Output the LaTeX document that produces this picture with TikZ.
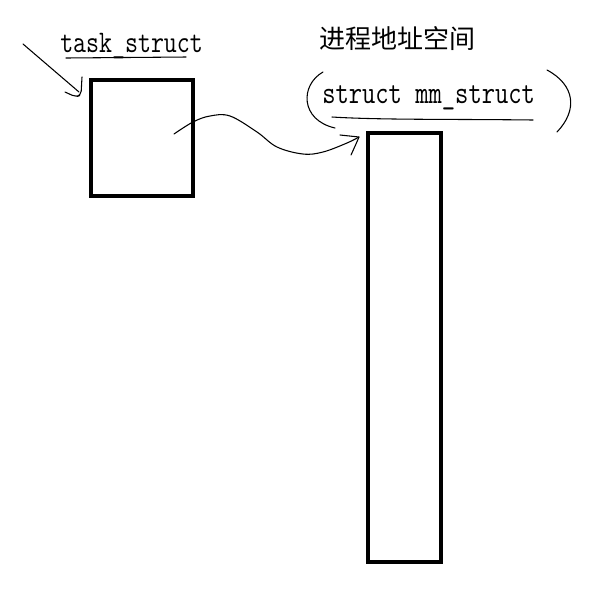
\documentclass[tikz,border=0pt]{standalone}
\usepackage{fontspec}
\usepackage{graphicx}
\newfontfamily\cjk{Noto Sans CJK SC}
\begin{document}
\begin{tikzpicture}[x=0.75pt,y=-0.75pt,
  box/.style={draw, line width=3pt, inner sep=0pt},
  hand/.style={line width=0.8pt, line cap=round, line join=round},
  code/.style={inner sep=0pt, anchor=base west, font=\ttfamily\fontsize{23.6pt}{28pt}\selectfont},
  codeb/.style={inner sep=0pt, anchor=base west, font=\ttfamily\fontsize{24.2pt}{28pt}\selectfont},
  title/.style={inner sep=0pt, anchor=base west, font=\cjk\fontsize{19.5pt}{24pt}\selectfont}]
\useasboundingbox[fill=white] (0,0) rectangle (609,594);

% boxes
\node[box, minimum width=76.5pt, minimum height=87pt] (task) at (142,138) {};
\node[box, minimum width=54.75pt, minimum height=321.75pt] (mm) at (404.5,347.5) {};

% labels
\node[code] (tasklbl) at (60,52) {\scalebox{0.8}[1]{task\_struct}};
\node[title] (space) at (319,48) {进程地址空间};
\node[codeb] (mmlbl) at (322,103) {\scalebox{0.8}[1]{struct mm\_struct}};

% underlines
\coordinate (u1a) at (66,58);
\coordinate (u1b) at (186,57);
\draw[hand] (u1a) -- (u1b);
\coordinate (u2a) at (332,117);
\coordinate (u2b) at (533,120);
\draw[hand] (u2a) .. controls (380,120) and (450,119) .. (u2b);

% brackets around struct mm_struct
\coordinate (pl1) at (323,72);
\coordinate (pl2) at (335,128);
\draw[hand] (pl1) .. controls (300,85) and (300,120) .. (pl2);
\coordinate (pr1) at (547,70);
\coordinate (pr2) at (557,132);
\draw[hand] (pr1) .. controls (575,85) and (578,110) .. (pr2);

% arrow pointing to task_struct box
\coordinate (a0) at (23,44);
\coordinate (a1) at (79,92);
\draw[hand] (a0) -- (a1);
\draw[hand, rounded corners=3pt] (82,77) -- (81,95) -- (76,97) -- (65,92);

% curved arrow from task_struct to mm box
\coordinate (c0) at (174,134);
\coordinate (c1) at (359,137);
\draw[hand] plot[smooth, tension=0.6] coordinates {(c0) (193,122) (210,116) (230,116) (257,132) (277,147) (303,154) (323,152) (347,143) (c1)};
\draw[hand] (340,135) -- (c1) .. controls (356,144) .. (351,155);
\end{tikzpicture}
\end{document}
